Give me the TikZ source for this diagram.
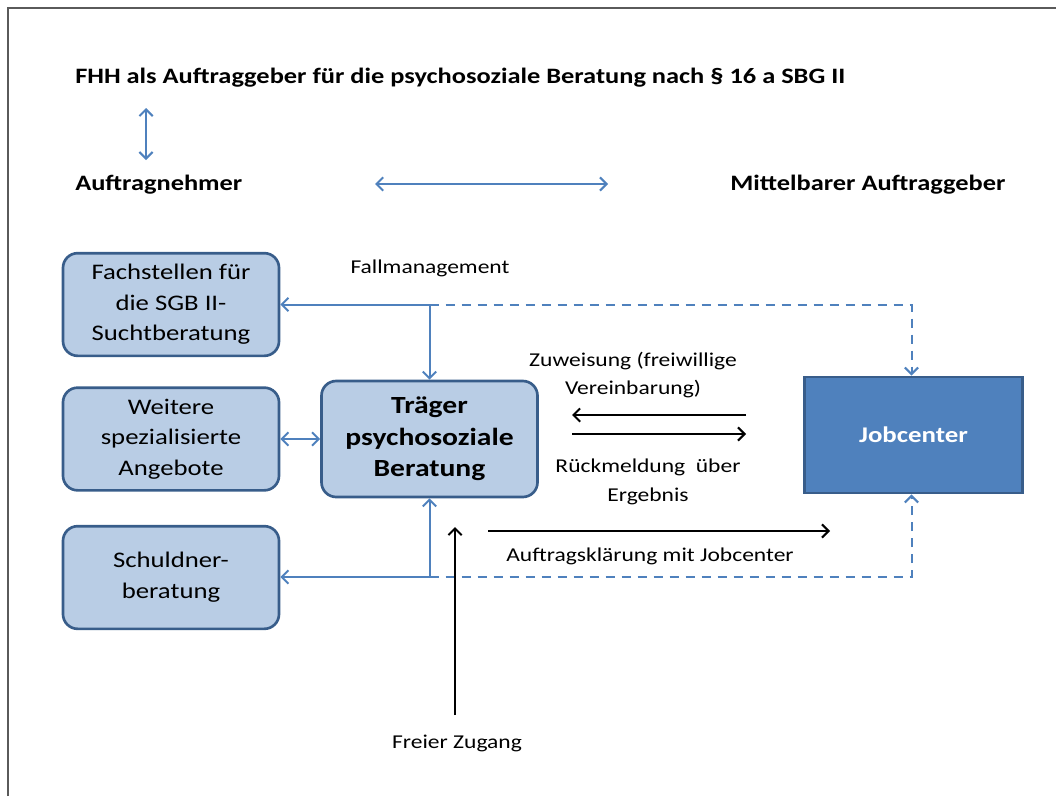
\documentclass[tikz,border=0pt]{standalone}
\usepackage{fontspec}
\setmainfont{Carlito}[FakeStretch=1.2]
\usepackage{tikz}
\usetikzlibrary{arrows.meta, positioning, calc}

\definecolor{boxfill}{HTML}{B9CDE5}
\definecolor{boxline}{HTML}{385D8A}
\definecolor{linkblue}{HTML}{4F81BD}
\definecolor{framegray}{HTML}{5A5A5A}

\begin{document}
\begin{tikzpicture}[
  x=0.75pt, y=-0.75pt,
  box/.style={draw=boxline, fill=boxfill, line width=2pt, rounded corners=11pt, align=center,
    minimum width=162pt, minimum height=77pt, font=\fontsize{16.7}{23}\selectfont},
  jobbox/.style={draw=boxline, fill=linkblue, line width=2.2pt, align=center,
    minimum width=163pt, minimum height=87pt, text=white, font=\fontsize{16.8}{19.5}\selectfont\bfseries},
  head/.style={anchor=west, inner sep=0pt, font=\fontsize{16.5}{20}\selectfont\bfseries},
  note/.style={align=center, inner sep=0pt, font=\fontsize{14.7}{21.5}\selectfont},
  smallnote/.style={align=center, inner sep=0pt, font=\fontsize{14.7}{17}\selectfont},
  link/.style={linkblue, line width=1.5pt},
  dashlink/.style={link, dash pattern=on 7pt off 5pt},
  flow/.style={black, line width=1.5pt},
  tip/.style={-{Straight Barb[length=5pt, width=10pt]}},
  tips/.style={{Straight Barb[length=5pt, width=10pt]}-{Straight Barb[length=5pt, width=10pt]}}
]
  \useasboundingbox (0,0) rectangle (1056,796);
  % frame of the slide
  \draw[framegray, line width=1.6pt] (8,796) -- (8,8) -- (1056,8);

  % headings
  \node[head] (title) at (75,78) {FHH als Auftraggeber für die psychosoziale Beratung nach § 16 a SBG II};
  \node[head] (nehmer) at (75,185) {Auftragnehmer};
  \node[head] (geber) at (730,185) {Mittelbarer Auftraggeber};
  \coordinate (vtop) at (146,108);
  \coordinate (vbot) at (146,160);
  \coordinate (hleft) at (375,184);
  \coordinate (hright) at (608,184);
  \draw[link, tips] (vtop) -- (vbot);
  \draw[link, tips] (hleft) -- (hright);

  % boxes
  \node[box] (fach) at (171,304.5) {Fachstellen für\\die SGB II-\\Suchtberatung};
  \node[box] (weitere) at (171,439) {Weitere\\spezialisierte\\Angebote};
  \node[box] (schuld) at (171,577.5) {Schuldner-\\beratung};
  \node[box, minimum height=87pt, font=\fontsize{18.5}{23.5}\selectfont\bfseries] (traeger) at (429.5,439) {Träger\\psychosoziale\\Beratung};
  \node[jobbox] (job) at (913.5,435) {Jobcenter};

  % blue links
  \coordinate (jtop) at (traeger.north |- fach.east);
  \coordinate (jbot) at (traeger.south |- 0,577);
  \node[smallnote] (fallm) at (430,268) {Fallmanagement};
  \draw[link, tip] (jtop) -- (fach.east);
  \draw[link, tip] (jtop) -- (traeger.north);
  \draw[dashlink, tip] (jtop) -| ([xshift=-1.5]job.north);
  \draw[link, tip] (jbot) -- (traeger.south);
  \draw[link, tip] (jbot) -- (schuld.east |- jbot);
  \draw[dashlink, tip] (jbot) -| ([xshift=-1.5]job.south);
  \draw[link, tips] (weitere) -- (traeger);

  % black flows
  \node[note] (zuw) at (633,375) {Zuweisung (freiwillige\\Vereinbarung)};
  \node[note] (rueck) at (648,482) {Rückmeldung\ \ über\\Ergebnis};
  \node[note] (klaer) at (650,556) {Auftragsklärung mit Jobcenter};
  \node[smallnote] (freier) at (457,743) {Freier Zugang};
  \coordinate (zr) at (746,415);
  \coordinate (zl) at (572,415);
  \coordinate (rl) at (572,434);
  \coordinate (rr) at (746,434);
  \coordinate (kl) at (488,531);
  \coordinate (kr) at (830,531);
  \coordinate (fbot) at (455,715);
  \coordinate (ftop) at (455,527);
  \draw[flow, tip] (zr) -- (zl);
  \draw[flow, tip] (rl) -- (rr);
  \draw[flow, tip] (kl) -- (kr);
  \draw[flow, tip] (fbot) -- (ftop);
\end{tikzpicture}
\end{document}
